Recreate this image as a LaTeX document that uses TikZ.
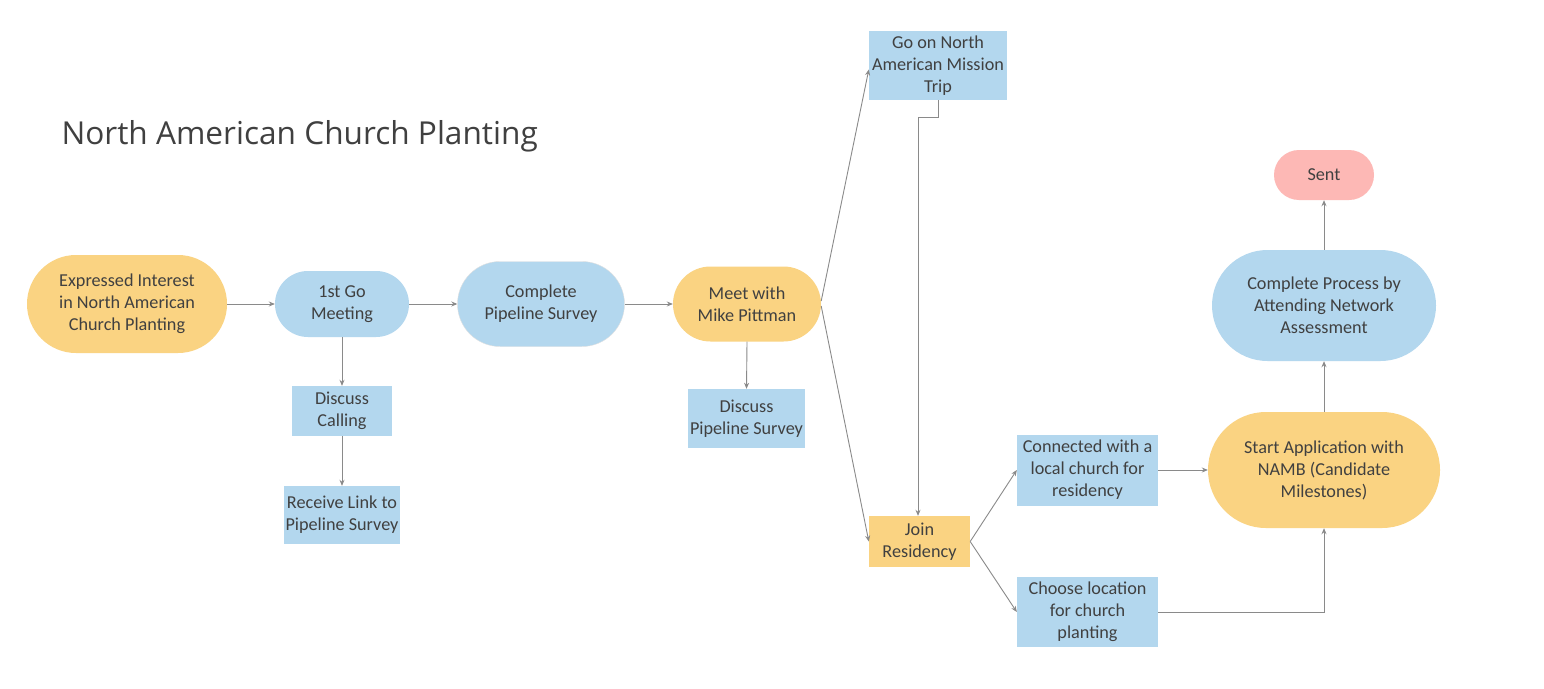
\documentclass[tikz,border=0pt]{standalone}
\usepackage{fontspec}
\setmainfont{Carlito}
\newfontfamily\titlefont{Open Sans}
\usetikzlibrary{shapes.misc,arrows.meta}
\definecolor{orfill}{HTML}{FAD382}
\definecolor{blfill}{HTML}{B3D7EE}
\definecolor{pkfill}{HTML}{FDB8B5}
\definecolor{txt}{HTML}{404040}
\definecolor{edge}{HTML}{8A8A8A}
\begin{document}
\begin{tikzpicture}[x=1pt,y=1pt,
  base/.style={inner sep=0pt, align=center, text=txt, font=\fontsize{18.2}{22}\selectfont},
  stad/.style={base, rounded rectangle, draw=none},
  boxn/.style={base, rectangle, draw=none},
  conn/.style={draw=edge, line width=0.9pt, -{Stealth[length=6pt,width=5pt,fill=txt!80]}}
]
\useasboundingbox (0,0) rectangle (1544,-688);
\fill[white] (0,0) rectangle (1544,-688);

\node[anchor=base west, text=txt, font=\titlefont\fontsize{31.6}{36}\selectfont] (title) at (58,-144) {North American Church Planting};

\node[stad, fill=orfill, minimum width=200pt, minimum height=98pt] (n1) at (127,-304) {Expressed Interest\\in North American\\Church Planting};
\node[stad, fill=blfill, minimum width=134pt, minimum height=66pt] (n2) at (342,-304) {1st Go\\Meeting};
\node[stad, fill=blfill, draw=black!12, minimum width=167pt, minimum height=85pt] (n3) at (541,-304) {Complete\\Pipeline Survey};
\node[stad, fill=orfill, minimum width=148pt, minimum height=75pt] (n4) at (747,-304) {Meet with\\Mike Pittman};
\node[boxn, fill=blfill, minimum width=100pt, minimum height=50pt] (n5) at (342,-411) {Discuss\\Calling};
\node[boxn, fill=blfill, minimum width=116pt, minimum height=58pt] (n6) at (342,-515) {Receive Link to\\Pipeline Survey};
\node[boxn, fill=blfill, minimum width=117pt, minimum height=59pt] (n7) at (746.5,-418.5) {Discuss\\Pipeline Survey};
\node[boxn, fill=blfill, minimum width=138pt, minimum height=69pt] (n8) at (938,-65.5) {Go on North\\American Mission\\Trip};
\node[boxn, fill=orfill, minimum width=101pt, minimum height=51pt] (n9) at (919.5,-541.5) {Join\\Residency};
\node[boxn, fill=blfill, minimum width=141pt, minimum height=71pt] (n10) at (1087.5,-470) {Connected with a\\local church for\\residency};
\node[boxn, fill=blfill, minimum width=141pt, minimum height=70pt] (n11) at (1087.5,-612) {Choose location\\for church\\planting};
\node[stad, fill=orfill, minimum width=232pt, minimum height=116pt] (n12) at (1324,-470) {Start Application with\\NAMB (Candidate\\Milestones)};
\node[stad, fill=blfill, minimum width=224pt, minimum height=111pt] (n13) at (1324,-305.5) {Complete Process by\\Attending Network\\Assessment};
\node[stad, fill=pkfill, minimum width=100pt, minimum height=50pt] (n14) at (1324,-175) {Sent};

\coordinate (b1) at (938,-117);
\coordinate (b2) at (918,-117);
\coordinate (c1) at (1324,-612);

\draw[conn] (n1.east) -- (n2.west);
\draw[conn] (n2.east) -- (n3.west);
\draw[conn] (n3.east) -- (n4.west);
\draw[conn] (n2.south) -- (n5.north);
\draw[conn] (n5.south) -- (n6.north);
\draw[conn] (n4.south) -- (n7.north);
\draw[conn] ([yshift=3pt]n4.east) -- ([yshift=-4pt]n8.west);
\draw[conn] ([yshift=-2pt]n4.east) -- (n9.west);
\draw[conn] (n8.south) -- (b1) -- (b2) -- (b2 |- n9.north);
\draw[conn] (n9.east) -- (n10.west);
\draw[conn] (n9.east) -- (n11.west);
\draw[conn] (n10.east) -- (n12.west);
\draw[conn] (n11.east) -- (c1) -- (n12.south);
\draw[conn] (n12.north) -- (n13.south);
\draw[conn] (n13.north) -- (n14.south);
\end{tikzpicture}
\end{document}
